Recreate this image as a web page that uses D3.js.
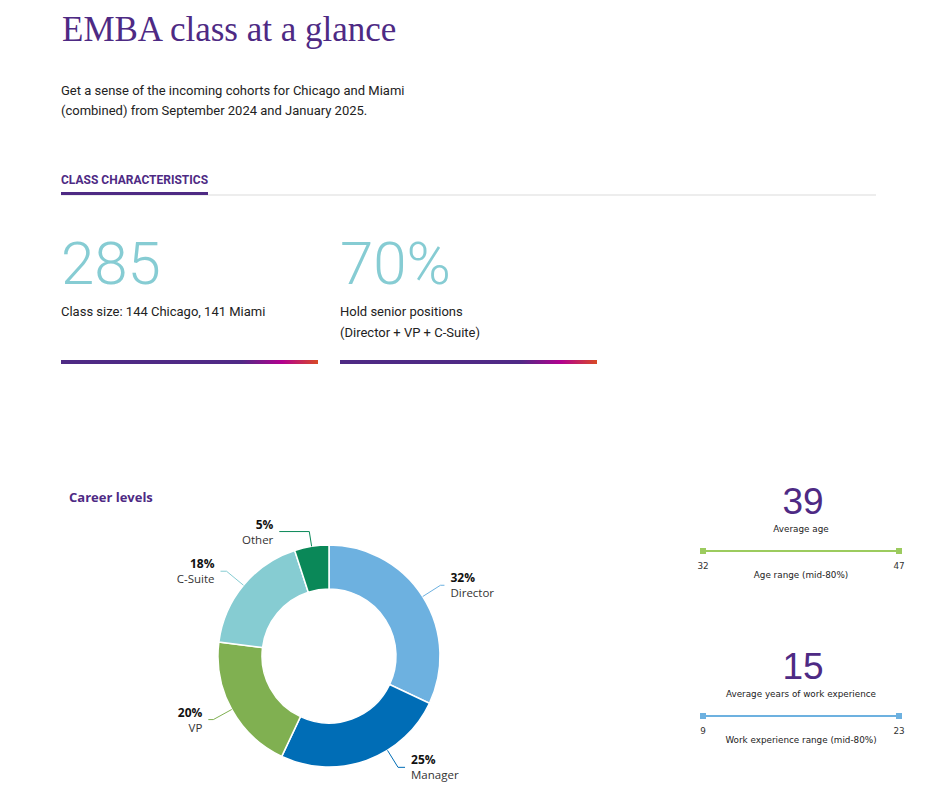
<!DOCTYPE html>
<html>
<head>
<meta charset="utf-8">
<script src="https://cdn.jsdelivr.net/npm/d3@7"></script>
<style>
  body { margin: 0; background: #fff; }
  svg { display: block; }
</style>
</head>
<body>
<div id="chart"></div>
<script>
// Career level shares (percent), clockwise from 12 o'clock
var levels = ["Director", "Manager", "VP", "C-Suite", "Other"];
var levelShares = [32, 25, 20, 18, 5];
var levelColors = ["#6db1e0", "#006db6", "#80b051", "#86ccd2", "#0a8858"];

// Headline stats
var statValues = ["285", "70%"];
var statNotes = [["Class size: 144 Chicago, 141 Miami"], ["Hold senior positions", "(Director + VP + C-Suite)"]];

// Ranges (mid-80%)
var rangeNames = ["Average age", "Average years of work experience"];
var rangeAverages = [39, 15];
var rangeLows = [32, 9];
var rangeHighs = [47, 23];
var rangeCaptions = ["Age range (mid-80%)", "Work experience range (mid-80%)"];
var rangeColors = ["#9ccb5e", "#6db1e0"];

var purple = "#4e2a84";
var width = 936, height = 807;

var svg = d3.select("#chart").append("svg")
  .attr("width", width)
  .attr("height", height);

// Gradient for the stat underlines
var grad = svg.append("defs").append("linearGradient").attr("id", "bar-grad");
grad.append("stop").attr("offset", "0%").attr("stop-color", "#4e2a84");
grad.append("stop").attr("offset", "70%").attr("stop-color", "#502a86");
grad.append("stop").attr("offset", "86%").attr("stop-color", "#b2018f");
grad.append("stop").attr("offset", "100%").attr("stop-color", "#d84a26");

// Header
svg.append("text")
  .attr("x", 62).attr("y", 41)
  .attr("font-family", "Liberation Serif, serif")
  .attr("font-size", 35)
  .attr("fill", purple)
  .text("EMBA class at a glance");

var intro = ["Get a sense of the incoming cohorts for Chicago and Miami",
             "(combined) from September 2024 and January 2025."];
svg.append("g").selectAll("text").data(intro).join("text")
  .attr("x", 61).attr("y", (d, i) => 95 + i * 20)
  .attr("font-family", "Roboto, sans-serif")
  .attr("font-size", 13)
  .attr("fill", "#222")
  .text(d => d);

// Section tab
svg.append("text")
  .attr("x", 61).attr("y", 184)
  .attr("font-family", "Roboto, sans-serif")
  .attr("font-weight", "bold")
  .attr("font-size", 12)
  .attr("fill", purple)
  .text("CLASS CHARACTERISTICS");
svg.append("rect").attr("x", 61).attr("y", 194.5).attr("width", 815).attr("height", 1).attr("fill", "#dcdcdc");
svg.append("rect").attr("x", 61).attr("y", 192).attr("width", 147).attr("height", 3).attr("fill", purple);

// Headline stats
var statX = d3.scalePoint().domain(d3.range(statValues.length)).range([61, 340]);
var stat = svg.append("g").selectAll("g").data(statValues).join("g")
  .attr("transform", (d, i) => `translate(${statX(i)},0)`);
stat.append("text")
  .attr("x", 0).attr("y", 284)
  .attr("font-family", "Roboto, sans-serif")
  .attr("font-weight", 300)
  .attr("font-size", 60)
  .attr("fill", "#86ccd3")
  .text(d => d);
stat.each(function(d, i) {
  d3.select(this).selectAll("text.note").data(statNotes[i]).join("text")
    .attr("class", "note")
    .attr("x", 0).attr("y", (n, j) => 315.5 + j * 21)
    .attr("font-family", "Roboto, sans-serif")
    .attr("font-size", 13)
    .attr("fill", "#222")
    .text(n => n);
});
stat.append("rect")
  .attr("x", 0).attr("y", 360).attr("width", 257).attr("height", 4)
  .attr("fill", "url(#bar-grad)");

// Donut chart
svg.append("text")
  .attr("x", 69).attr("y", 502)
  .attr("font-family", "Open Sans, sans-serif")
  .attr("font-weight", "bold")
  .attr("font-size", 13)
  .attr("fill", purple)
  .text("Career levels");

var cx = 329, cy = 656, outerR = 111, innerR = 67;
var pie = d3.pie().sort(null).value(d => d)(levelShares);
var arc = d3.arc().innerRadius(innerR).outerRadius(outerR);

var donut = svg.append("g").attr("transform", `translate(${cx},${cy})`);
donut.selectAll("path").data(pie).join("path")
  .attr("d", arc)
  .attr("fill", (d, i) => levelColors[i])
  .attr("stroke", "#fff")
  .attr("stroke-width", 1.5);

// label connector layout: angle nudge (deg), elbow radius, horizontal run
var labelNudge = [0, -12, 0, 0, 0];
var elbowR = [132, 131, 132, 133, 126];
var runLen = [4, 7, 5, 6, 30];

pie.forEach(function(d, i) {
  var a = (d.startAngle + d.endAngle) / 2 + labelNudge[i] * Math.PI / 180;
  var side = Math.sin(a) >= 0 ? 1 : -1;
  var p1 = [Math.sin(a) * outerR, -Math.cos(a) * outerR];
  var p2 = [Math.sin(a) * elbowR[i], -Math.cos(a) * elbowR[i]];
  var p3 = [p2[0] + side * runLen[i], p2[1]];
  donut.append("path")
    .attr("d", d3.line()([p1, p2, p3]))
    .attr("fill", "none")
    .attr("stroke", levelColors[i])
    .attr("stroke-width", 1);
  var t = donut.append("text")
    .attr("font-family", "Open Sans, sans-serif")
    .attr("font-size", 11.5)
    .attr("text-anchor", side > 0 ? "start" : "end");
  t.append("tspan")
    .attr("x", p3[0] + side * 6).attr("y", p3[1] - 3)
    .attr("font-weight", "bold")
    .attr("font-size", 12)
    .attr("fill", "#111")
    .text(levelShares[i] + "%");
  t.append("tspan")
    .attr("x", p3[0] + side * 6).attr("y", p3[1] + 12)
    .attr("fill", "#333")
    .text(levels[i]);
});

// Range panels
var rx0 = 703, rx1 = 899;
var panelY = [0, 165];
rangeNames.forEach(function(name, i) {
  var g = svg.append("g").attr("transform", `translate(0,${panelY[i]})`);
  var x = d3.scaleLinear().domain([rangeLows[i], rangeHighs[i]]).range([rx0, rx1]);
  var mid = (rx0 + rx1) / 2;
  g.append("text")
    .attr("x", mid + 2).attr("y", 514)
    .attr("text-anchor", "middle")
    .attr("font-family", "Liberation Sans, sans-serif")
    .attr("font-size", 37)
    .attr("fill", purple)
    .text(rangeAverages[i]);
  g.append("text")
    .attr("x", mid).attr("y", 531.5)
    .attr("text-anchor", "middle")
    .attr("font-family", "DejaVu Sans, sans-serif")
    .attr("font-size", 8.8)
    .attr("fill", "#222")
    .text(name);
  g.append("line")
    .attr("x1", x(rangeLows[i])).attr("x2", x(rangeHighs[i]))
    .attr("y1", 551).attr("y2", 551)
    .attr("stroke", rangeColors[i]).attr("stroke-width", 2);
  g.selectAll("rect.end").data([rangeLows[i], rangeHighs[i]]).join("rect")
    .attr("class", "end")
    .attr("x", d => x(d) - 3).attr("y", 548)
    .attr("width", 6).attr("height", 6)
    .attr("fill", rangeColors[i]);
  g.selectAll("text.tick").data([rangeLows[i], rangeHighs[i]]).join("text")
    .attr("class", "tick")
    .attr("x", d => x(d)).attr("y", 569)
    .attr("text-anchor", "middle")
    .attr("font-family", "DejaVu Sans, sans-serif")
    .attr("font-size", 8.8)
    .attr("fill", "#333")
    .text(d => d);
  g.append("text")
    .attr("x", mid).attr("y", 578)
    .attr("text-anchor", "middle")
    .attr("font-family", "DejaVu Sans, sans-serif")
    .attr("font-size", 8.8)
    .attr("fill", "#222")
    .text(rangeCaptions[i]);
});
</script>
</body>
</html>
